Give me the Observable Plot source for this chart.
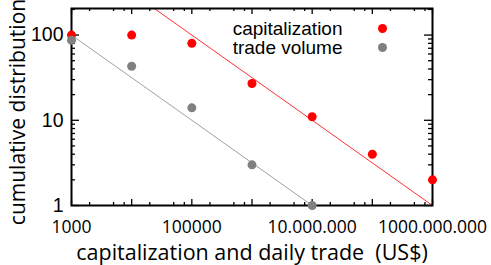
<!DOCTYPE html>
<html>
<head>
<meta charset="utf-8">
<script src="https://cdn.jsdelivr.net/npm/d3@7"></script>
<script src="https://cdn.jsdelivr.net/npm/@observablehq/plot@0.6"></script>
<style>
  html, body { margin: 0; padding: 0; background: #fff; }
  #chart svg { display: block; }
</style>
</head>
<body>
<div id="chart"></div>
<script>
// --- data ---
const xValues = [1e3, 1e4, 1e5, 1e6, 1e7, 1e8, 1e9];
const capitalization = [100, 100, 80, 27, 11, 4, 2];
const tradeVolume = [87, 43, 14, 3, 1];
const seriesNames = ["capitalization", "trade volume"];
const seriesColors = ["#ff0000", "#808080"];
const fitColors = ["#ff3030", "#a0a0a0"];
// power-law fits  y = A * x^b
const fitPrefactor = [31623, 3162];
const fitExponent = [-0.5, -0.5];
const xTickValues = [1e3, 1e5, 1e7, 1e9];
const xTickLabels = ["1000", "100000", "10.000.000", "1000.000.000"];
const yTickValues = [1, 10, 100];
const yTickLabels = ["1", "10", "100"];
const xLabel = "capitalization and daily trade\u00a0\u00a0(US$)";
const yLabel = "cumulative distribution";

// --- derived tables ---
const points = [
  ...capitalization.map((v, i) => ({x: xValues[i], y: v, s: seriesNames[0]})),
  ...tradeVolume.map((v, i) => ({x: xValues[i], y: v, s: seriesNames[1]}))
];
const xDomain = [1e3, 1e9];
const yDomain = [1, 205];
const fitLines = seriesNames.flatMap((s, k) =>
  xDomain.map(x => ({x, y: fitPrefactor[k] * Math.pow(x, fitExponent[k]), s})));

const decadesX = d3.range(3, 10).map(e => Math.pow(10, e));
const minorX = d3.range(3, 9).flatMap(e => [2, 5, 7.5].map(m => m * Math.pow(10, e)));
const decadesY = [1, 10, 100];
const minorY = [1, 10, 100].flatMap(d => d3.range(2, 10).map(m => m * d)).filter(v => v <= yDomain[1]);

const W = 491, H = 265;
const mL = 71, mR = 59, mT = 8, mB = 60;
const fw = W - mL - mR, fh = H - mT - mB;

const color = Plot.scale({color: {domain: seriesNames, range: seriesColors}});

const chart = Plot.plot({
  width: W, height: H,
  marginLeft: mL, marginRight: mR, marginTop: mT, marginBottom: mB,
  x: {type: "log", domain: xDomain},
  y: {type: "log", domain: yDomain},
  style: {background: "#fff"},
  marks: [
    // fit lines
    Plot.line(fitLines.filter(d => d.s === seriesNames[0]), {x: "x", y: "y", stroke: fitColors[0], strokeWidth: 1, clip: true}),
    Plot.line(fitLines.filter(d => d.s === seriesNames[1]), {x: "x", y: "y", stroke: fitColors[1], strokeWidth: 1, clip: true}),
    // ticks inside the frame
    Plot.tickX(decadesX, {x: d => d, insetTop: fh - 6, stroke: "#000", strokeWidth: 1.3}),
    Plot.tickX(minorX, {x: d => d, insetTop: fh - 3, stroke: "#000", strokeWidth: 1.3}),
    Plot.tickX(decadesX, {x: d => d, insetBottom: fh - 6, stroke: "#000", strokeWidth: 1.3}),
    Plot.tickX(minorX, {x: d => d, insetBottom: fh - 3, stroke: "#000", strokeWidth: 1.3}),
    Plot.tickY(decadesY, {y: d => d, insetRight: fw - 8, stroke: "#000", strokeWidth: 1.3}),
    Plot.tickY(minorY, {y: d => d, insetRight: fw - 4, stroke: "#000", strokeWidth: 1.3}),
    Plot.tickY(decadesY, {y: d => d, insetLeft: fw - 8, stroke: "#000", strokeWidth: 1.3}),
    Plot.tickY(minorY, {y: d => d, insetLeft: fw - 4, stroke: "#000", strokeWidth: 1.3}),
    Plot.frame({stroke: "#000", strokeWidth: 2}),
    // tick labels
    Plot.axisX({ticks: xTickValues, tickSize: 0, tickPadding: 15, tickFormat: (d) => xTickLabels[xTickValues.indexOf(d)],
      fontSize: 17.5, fontFamily: "Open Sans", fill: "#000", label: null}),
    Plot.axisY({ticks: yTickValues, tickSize: 0, tickPadding: 8, tickFormat: d => yTickLabels[yTickValues.indexOf(d)],
      fontSize: 19.5, fontFamily: "Liberation Sans", fill: "#000", label: null}),
    // points
    Plot.dot(points, {x: "x", y: "y", r: 4.5, fill: d => color.apply(d.s), stroke: "none"}),
    // axis titles
    Plot.text([xLabel], {frameAnchor: "bottom", dy: 48, lineAnchor: "middle", textAnchor: "middle", text: d => d, fontSize: 21.5, fontFamily: "Open Sans", fill: "#000"}),
    Plot.text([yLabel], {frameAnchor: "left", dx: -53, dy: 5, rotate: -90, textAnchor: "middle", lineAnchor: "middle", text: d => d, fontSize: 21, fontFamily: "Open Sans", fill: "#000"}),
    // legend
    Plot.text([seriesNames[0]], {frameAnchor: "top-right", dx: -90, dy: 20, textAnchor: "end", lineAnchor: "middle", text: d => d, fontSize: 19, fontFamily: "Liberation Sans", fill: "#000"}),
    Plot.text([seriesNames[1]], {frameAnchor: "top-right", dx: -90, dy: 39, textAnchor: "end", lineAnchor: "middle", text: d => d, fontSize: 19, fontFamily: "Liberation Sans", fill: "#000"}),
    Plot.dot([seriesNames[0]], {frameAnchor: "top-right", dx: -50, dy: 20, r: 4.5, fill: seriesColors[0]}),
    Plot.dot([seriesNames[1]], {frameAnchor: "top-right", dx: -50, dy: 39, r: 4.5, fill: seriesColors[1]})
  ]
});
document.getElementById("chart").appendChild(chart);
</script>
</body>
</html>
